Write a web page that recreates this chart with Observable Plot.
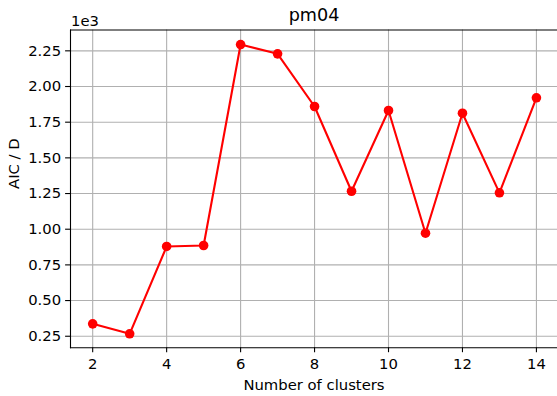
<!DOCTYPE html>
<html>
<head>
<meta charset="utf-8">
<script src="https://cdn.jsdelivr.net/npm/d3@7"></script>
<script src="https://cdn.jsdelivr.net/npm/@observablehq/plot@0.6"></script>
<style>
  html, body { margin: 0; padding: 0; background: white; }
</style>
</head>
<body>
<div id="chart"></div>
<script>
const title = "pm04";
const xLabel = "Number of clusters";
const yLabel = "AIC / D";
const offsetText = "1e3";
const clusters = [2, 3, 4, 5, 6, 7, 8, 9, 10, 11, 12, 13, 14];
const aicPerD = [337, 267, 879, 886, 2294, 2229, 1860, 1266, 1832, 972, 1813, 1255, 1921];
const xTicks = [2, 4, 6, 8, 10, 12, 14];
const yTicks = [0.25, 0.5, 0.75, 1.0, 1.25, 1.5, 1.75, 2.0, 2.25];

const data = clusters.map((c, i) => ({x: c, y: aicPerD[i] / 1000}));

const gridStyle = {stroke: "#b0b0b0", strokeOpacity: 1, strokeWidth: 1.1};
const fs = 14.8;

const chart = Plot.plot({
  width: 557,
  height: 396,
  marginLeft: 70,
  marginRight: 0,
  marginTop: 29.5,
  marginBottom: 48.7,
  style: {fontFamily: "DejaVu Sans", fontSize: fs + "px", color: "black", background: "white", overflow: "visible"},
  x: {domain: [1.4, 14.57]},
  y: {domain: [0.169, 2.396]},
  marks: [
    Plot.gridX(xTicks, gridStyle),
    Plot.gridY(yTicks, gridStyle),
    Plot.axisX(xTicks, {tickSize: 4.9, tickPadding: 6, tickFormat: d => String(d), label: null, strokeWidth: 1.1, fontSize: fs}),
    Plot.axisY(yTicks, {tickSize: 4.9, tickPadding: 4.5, tickFormat: d3.format(".2f"), label: null, strokeWidth: 1.1, fontSize: fs}),
    Plot.frame({anchor: "left", stroke: "black", strokeWidth: 1.1}),
    Plot.frame({anchor: "bottom", stroke: "black", strokeWidth: 1.1}),
    Plot.frame({anchor: "top", stroke: "black", strokeWidth: 1.1}),
    Plot.line(data, {x: "x", y: "y", stroke: "#ff0000", strokeWidth: 2.1}),
    Plot.dot(data, {x: "x", y: "y", r: 4.8, fill: "#ff0000", stroke: "none"}),
    Plot.text([title], {frameAnchor: "top", dy: -9, lineAnchor: "bottom", fontSize: 17.6, fill: "black"}),
    Plot.text([offsetText], {frameAnchor: "top-left", dy: -4, dx: 0.5, lineAnchor: "bottom", textAnchor: "start", fontSize: fs, fill: "black"}),
    Plot.text([xLabel], {frameAnchor: "bottom", dy: 41.7, lineAnchor: "bottom", fontSize: fs, fill: "black"}),
    Plot.text([yLabel], {frameAnchor: "left", dx: -56, rotate: -90, fontSize: fs, fill: "black"})
  ]
});
document.getElementById("chart").appendChild(chart);
</script>
</body>
</html>
